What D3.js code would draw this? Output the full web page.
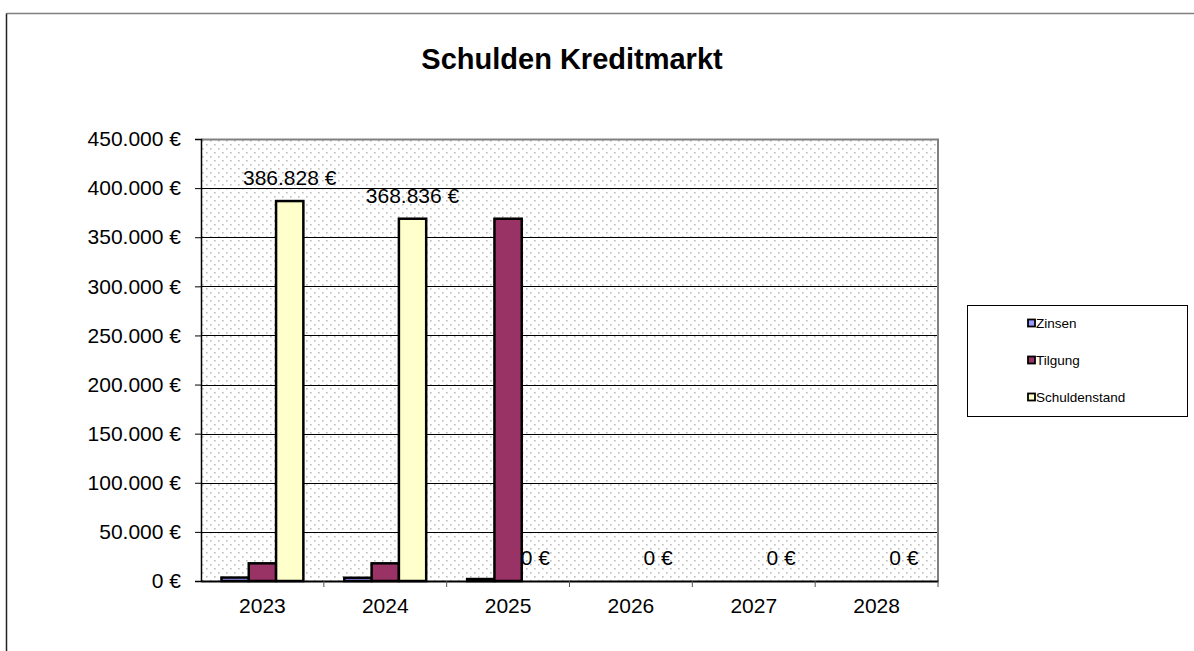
<!DOCTYPE html>
<html>
<head>
<meta charset="utf-8">
<script src="https://cdn.jsdelivr.net/npm/d3@7"></script>
<style>
  body { margin: 0; background: #fff; }
  svg { font-family: "Liberation Sans", Arial, sans-serif; }
</style>
</head>
<body>
<div id="chart"></div>
<script>
// chart data
let years = ["2023", "2024", "2025", "2026", "2027", "2028"];
let seriesNames = ["Zinsen", "Tilgung", "Schuldenstand"];
let zinsen = [3500, 3300, 2000, 0, 0, 0];
let tilgung = [17992, 17992, 368836, 0, 0, 0];
let schuldenstand = [386828, 368836, 0, 0, 0, 0];
let yTickValues = [0, 50000, 100000, 150000, 200000, 250000, 300000, 350000, 400000, 450000];

let W = 1194, H = 651,
    margin = { top: 139, left: 201, right: 256, bottom: 70 },
    width = 938 - margin.left,
    height = 581 - margin.top;

let colors = d3.scaleOrdinal()
    .domain(seriesNames)
    .range(["#9999ff", "#993366", "#ffffcc"]);

let fmt = function (v) {
    return d3.format(",.0f")(v).replace(/,/g, ".") + " €";
};

let svg = d3.select("#chart").append("svg")
    .attr("width", W)
    .attr("height", H);

// dotted background pattern
let defs = svg.append("defs");
let pat = defs.append("pattern")
    .attr("id", "dots")
    .attr("patternUnits", "userSpaceOnUse")
    .attr("width", 8)
    .attr("height", 8);
pat.append("rect").attr("width", 8).attr("height", 8).attr("fill", "#fff");
pat.append("rect").attr("x", 1).attr("y", 1).attr("width", 1.6).attr("height", 1.6).attr("fill", "#bdbdbd");
pat.append("rect").attr("x", 5).attr("y", 5).attr("width", 1.6).attr("height", 1.6).attr("fill", "#bdbdbd");

// outer chart frame (only top and left visible)
svg.append("line").attr("x1", 6.5).attr("x2", W + 5).attr("y1", 13.5).attr("y2", 13.5)
    .attr("stroke", "#808080").attr("stroke-width", 1.5);
svg.append("line").attr("x1", 6.5).attr("x2", 6.5).attr("y1", 13.5).attr("y2", H + 5)
    .attr("stroke", "#222").attr("stroke-width", 1.5);

// title
svg.append("text")
    .attr("x", 572)
    .attr("y", 69)
    .attr("text-anchor", "middle")
    .style("font-size", "29px")
    .style("font-weight", "bold")
    .text("Schulden Kreditmarkt");

let g = svg.append("g")
    .attr("transform", "translate(" + margin.left + "," + margin.top + ")");

let x0 = d3.scaleBand()
    .domain(years)
    .range([0, width]);

// excel style: gap width 150%
let barW = x0.bandwidth() / 4.5;
let x1 = d3.scaleBand()
    .domain(seriesNames)
    .range([0, barW * 3]);

let y = d3.scaleLinear()
    .domain([0, 450000])
    .range([height, 0]);

// plot area
g.append("rect")
    .attr("width", width)
    .attr("height", height)
    .attr("fill", "url(#dots)");

// gridlines
g.append("g")
    .selectAll("line")
    .data(yTickValues.slice(1))
    .enter().append("line")
    .attr("x1", 0)
    .attr("x2", width)
    .attr("y1", d => Math.round(y(d)) + 0.5)
    .attr("y2", d => Math.round(y(d)) + 0.5)
    .attr("stroke", "#000")
    .attr("stroke-width", 1);

// plot border top / right
g.append("path")
    .attr("d", "M0,0.5H" + width + "V" + height)
    .attr("fill", "none")
    .attr("stroke", "#808080")
    .attr("stroke-width", 2);

// bars
let bar_data = years.map(function (yr, i) {
    return {
        year: yr,
        values: [
            { key: "Zinsen", value: zinsen[i] },
            { key: "Tilgung", value: tilgung[i] },
            { key: "Schuldenstand", value: schuldenstand[i] }
        ]
    };
});

let groups = g.append("g")
    .selectAll("g")
    .data(bar_data)
    .enter().append("g")
    .attr("transform", d => "translate(" + (x0(d.year) + barW * 0.75) + ",0)");

groups.selectAll("rect")
    .data(d => d.values.filter(v => v.value > 0))
    .enter().append("rect")
    .attr("x", d => x1(d.key))
    .attr("y", d => y(d.value))
    .attr("width", x1.bandwidth())
    .attr("height", d => height - y(d.value))
    .attr("fill", d => colors(d.key))
    .attr("stroke", "#000")
    .attr("stroke-width", 2.5);

// data labels for Schuldenstand
groups.append("text")
    .attr("x", x1("Schuldenstand") + x1.bandwidth() / 2)
    .attr("y", (d, i) => y(schuldenstand[i]) - 23)
    .attr("text-anchor", "middle")
    .attr("dy", "0.35em")
    .style("font-size", "21px")
    .text((d, i) => fmt(schuldenstand[i]));

// y axis
let yAxis = g.append("g")
    .call(d3.axisLeft(y).tickValues(yTickValues).tickSize(6).tickFormat(fmt));
yAxis.select(".domain").attr("stroke", "#000").attr("stroke-width", 1.5);
yAxis.selectAll("text").style("font-size", "21px").attr("fill", "#000").attr("x", -20);

// x axis
let xAxis = g.append("g")
    .attr("transform", "translate(0," + height + ")")
    .call(d3.axisBottom(x0).tickSize(0).tickSizeOuter(0));
xAxis.select(".domain").attr("stroke", "#000").attr("stroke-width", 2);
xAxis.selectAll("text").style("font-size", "21px").attr("fill", "#000").attr("y", 25).attr("dy", "0.35em");

// x ticks between categories
g.append("g")
    .selectAll("line")
    .data(years.slice(1).concat(["end"]))
    .enter().append("line")
    .attr("x1", (d, i) => x0.step() * (i + 1))
    .attr("x2", (d, i) => x0.step() * (i + 1))
    .attr("y1", height)
    .attr("y2", height + 6)
    .attr("stroke", "#555")
    .attr("stroke-width", 1);

// legend
let lg = svg.append("g").attr("transform", "translate(967,305)");
lg.append("rect")
    .attr("x", 0.5).attr("y", 0.5)
    .attr("width", 220).attr("height", 111)
    .attr("fill", "#fff")
    .attr("stroke", "#000");

let items = lg.selectAll("g.item")
    .data(seriesNames)
    .enter().append("g")
    .attr("class", "item")
    .attr("transform", (d, i) => "translate(60," + (18 + i * 37) + ")");

items.append("rect")
    .attr("x", 1).attr("y", -3.5)
    .attr("width", 7).attr("height", 7)
    .attr("fill", d => colors(d))
    .attr("stroke", "#000")
    .attr("stroke-width", 1.8);

items.append("text")
    .attr("x", 9)
    .attr("y", 0)
    .attr("dy", "0.35em")
    .style("font-size", "13.5px")
    .text(d => d);
</script>
</body>
</html>
